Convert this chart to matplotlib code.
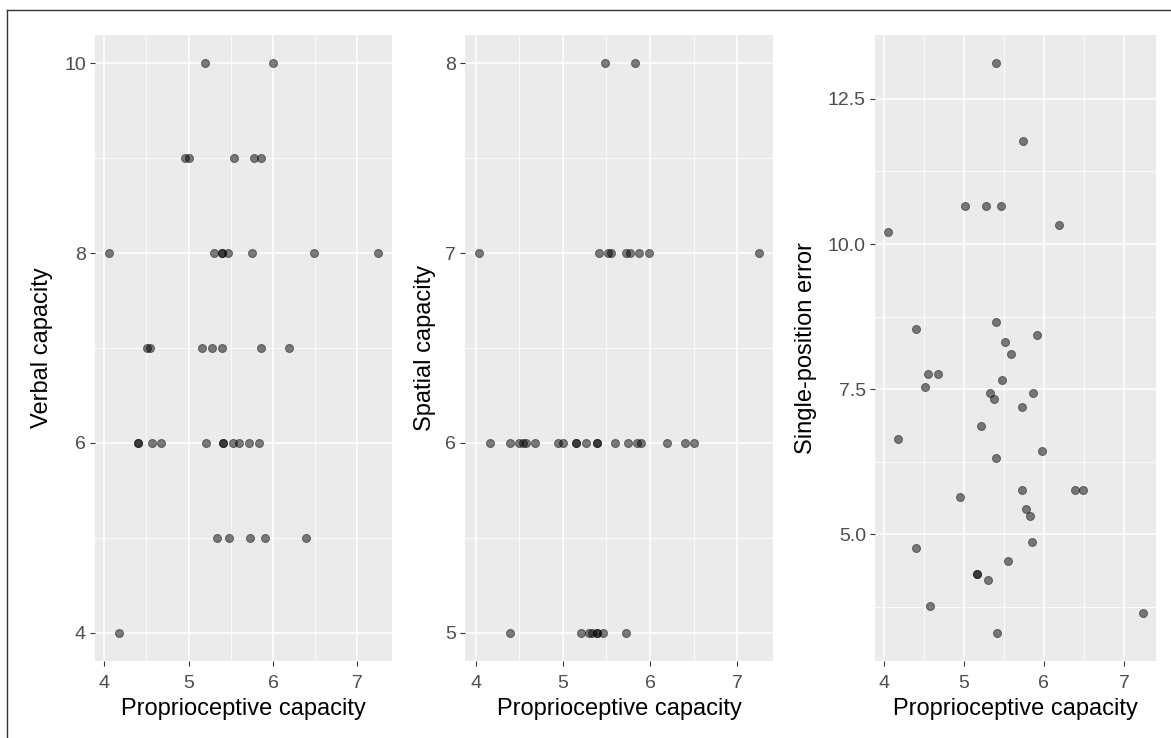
import matplotlib
matplotlib.use("Agg")
import matplotlib.pyplot as plt
from matplotlib.ticker import MultipleLocator, FormatStrFormatter
from matplotlib.lines import Line2D

plt.rcParams['font.family'] = ['Liberation Sans', 'DejaVu Sans']

# panel 1: proprioceptive vs verbal capacity
verbal_x = [5.19, 6.00,
            4.96, 5.00, 5.54, 5.77, 5.86,
            4.05, 5.30, 5.40, 5.40, 5.47, 5.75, 6.48, 7.25,
            4.51, 4.54, 5.16, 5.28, 5.40, 5.86, 6.19,
            4.40, 4.40, 4.57, 4.67, 5.21, 5.41, 5.41, 5.52, 5.60, 5.72, 5.83,
            5.33, 5.48, 5.73, 5.90, 6.39,
            4.18]
verbal_y = [10, 10,
            9, 9, 9, 9, 9,
            8, 8, 8, 8, 8, 8, 8, 8,
            7, 7, 7, 7, 7, 7, 7,
            6, 6, 6, 6, 6, 6, 6, 6, 6, 6, 6,
            5, 5, 5, 5, 5,
            4]

# panel 2: proprioceptive vs spatial capacity
spatial_x = [5.48, 5.83,
             4.04, 5.41, 5.52, 5.55, 5.72, 5.77, 5.87, 5.99, 7.25,
             4.17, 4.39, 4.50, 4.55, 4.58, 4.68, 4.95, 5.00, 5.15, 5.15,
             5.27, 5.39, 5.39, 5.60, 5.75, 5.85, 5.90, 6.19, 6.40, 6.50,
             4.39, 5.21, 5.30, 5.33, 5.39, 5.39, 5.46, 5.73]
spatial_y = [8, 8,
             7, 7, 7, 7, 7, 7, 7, 7, 7,
             6, 6, 6, 6, 6, 6, 6, 6, 6, 6,
             6, 6, 6, 6, 6, 6, 6, 6, 6, 6,
             5, 5, 5, 5, 5, 5, 5, 5]

# panel 3: proprioceptive vs single-position error
error_x = [5.40, 5.74, 5.01, 5.28, 5.46, 6.19, 4.05, 4.40, 5.40, 5.91,
           5.51, 5.59, 4.55, 4.68, 4.51, 5.48, 5.33, 5.38, 5.86, 5.73,
           5.21, 4.18, 5.98, 5.40, 5.72, 6.39, 6.49, 4.95, 5.78, 5.83,
           5.85, 4.40, 5.55, 5.16, 5.16, 5.30, 4.58, 7.24, 5.41]
error_y = [13.11, 11.78, 10.66, 10.66, 10.66, 10.33, 10.21, 8.54, 8.66, 8.44,
           8.32, 8.11, 7.77, 7.77, 7.54, 7.66, 7.44, 7.33, 7.44, 7.20,
           6.87, 6.65, 6.44, 6.32, 5.77, 5.77, 5.77, 5.65, 5.43, 5.32,
           4.87, 4.77, 4.54, 4.32, 4.32, 4.21, 3.77, 3.65, 3.31]

W, H = 1171, 738
fig = plt.figure(figsize=(W / 100, H / 100), dpi=100)

panels = [
    (verbal_x, verbal_y, 'Verbal capacity', (95, 392), 2, 1, '%d', 42),
    (spatial_x, spatial_y, 'Spatial capacity', (465, 773), 1, 0.5, '%d', 425),
    (error_x, error_y, 'Single-position error', (875, 1156), 2.5, 1.25, '%.1f', 806),
]

top, bottom = 35, 661
for xs, ys, ylab, (l, r), ymaj, ymin, yfmt, ylab_x in panels:
    ax = fig.add_axes([l / W, 1 - bottom / H, (r - l) / W, (bottom - top) / H])
    ax.set_facecolor('#EBEBEB')
    ax.scatter(xs, ys, s=34, facecolor=(0, 0, 0, 0.5), edgecolor=(0, 0, 0, 0.5),
               linewidths=0.6, zorder=3)
    ax.margins(0.05)
    ax.xaxis.set_major_locator(MultipleLocator(1))
    ax.xaxis.set_minor_locator(MultipleLocator(0.5))
    ax.yaxis.set_major_locator(MultipleLocator(ymaj))
    ax.yaxis.set_minor_locator(MultipleLocator(ymin))
    ax.yaxis.set_major_formatter(FormatStrFormatter(yfmt))
    ax.grid(which='major', color='white', lw=1.1)
    ax.grid(which='minor', color='white', lw=0.55)
    ax.set_axisbelow(True)
    for sp in ax.spines.values():
        sp.set_visible(False)
    ax.tick_params(which='major', length=3.5, width=0.8, color='#333333',
                   labelcolor='#4D4D4D', labelsize=14)
    ax.tick_params(axis='x', which='major', pad=6.5)
    ax.tick_params(axis='y', which='major', pad=3)
    ax.tick_params(which='minor', length=0)
    ax.set_xlabel('Proprioceptive capacity', fontsize=17, color='black', labelpad=4.5)
    fig.text(ylab_x / W, 1 - (top + bottom) / 2 / H, ylab, rotation=90,
             ha='center', va='center', fontsize=17, color='black')

# outer frame (left and top edges visible in the crop)
fig.add_artist(Line2D([7 / W, 7 / W], [0, 1 - 10 / H], transform=fig.transFigure,
                      color='#333333', lw=1))
fig.add_artist(Line2D([7 / W, 1], [1 - 10 / H, 1 - 10 / H], transform=fig.transFigure,
                      color='#333333', lw=1))

fig.savefig('out.png', dpi=100)
